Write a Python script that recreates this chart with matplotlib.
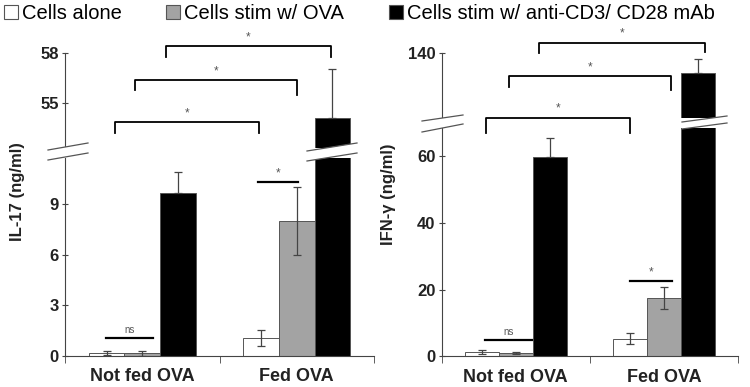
import matplotlib
matplotlib.use("Agg")
import matplotlib.pyplot as plt
import numpy as np
from matplotlib.patches import Polygon, Patch
from matplotlib.lines import Line2D

plt.rcParams['font.family'] = ['Liberation Sans', 'DejaVu Sans']

groups = ['Not fed OVA', 'Fed OVA']
series = ['Cells alone', 'Cells stim w/ OVA', 'Cells stim w/ anti-CD3/ CD28 mAb']
colors = ['white', '#a3a3a3', 'black']

# IL-17 (ng/ml)
il17 = [[0.15, 1.05], [0.15, 8.0], [9.65, 54.1]]
il17_err = [[0.1, 0.5], [0.15, 2.0], [1.25, 2.95]]
# IFN-gamma (ng/ml)
ifn = [[1.3, 5.3], [1.1, 17.5], [59.7, 134.0]]
ifn_err = [[0.5, 1.6], [0.3, 3.2], [5.7, 4.3]]

# significance marks: (x1, x2, y, leg1, leg2, label, axis)
il17_sig = [(0.154, 1.222, 58.44, 57.78, 57.78, '*', 'up'),
            (-0.045, 1.0, 56.40, 55.8, 55.5, '*', 'up'),
            (-0.176, 0.756, 53.88, 53.22, 53.22, '*', 'up'),
            (-0.235, 0.07, 1.06, None, None, 'ns', 'low'),
            (0.749, 1.008, 10.3, None, None, '*', 'low')]
ifn_sig = [(0.157, 1.279, 143.2, 140.0, 140.5, '*', 'up'),
           (-0.045, 1.049, 133.1, 130.0, 129.0, '*', 'up'),
           (-0.2, 0.773, 120.7, 116.1, 116.1, '*', 'up'),
           (-0.207, 0.11, 4.9, None, None, 'ns', 'low'),
           (0.772, 1.054, 22.6, None, None, '*', 'low')]

W, H = 750, 387
fig = plt.figure(figsize=(7.5, 3.87), dpi=100)


def px(x, y):
    return (x / W, 1 - y / H)


def make_axes(x0, x1, y_bot, y_low_top, y_up_bot, y_top):
    low = fig.add_axes([x0 / W, 1 - y_bot / H, (x1 - x0) / W, (y_bot - y_low_top) / H])
    up = fig.add_axes([x0 / W, 1 - y_up_bot / H, (x1 - x0) / W, (y_up_bot - y_top) / H])
    return low, up


def style(ax, upper):
    for s in ['top', 'right']:
        ax.spines[s].set_visible(False)
    ax.spines['left'].set_color('#444444')
    ax.spines['bottom'].set_color('#444444')
    if upper:
        ax.spines['bottom'].set_visible(False)
        ax.set_xticks([])
    ax.tick_params(axis='y', direction='inout', length=5, width=0.8, color='#444444',
                   labelsize=12, pad=2)
    for lab in ax.get_yticklabels():
        lab.set_fontweight('bold')
        lab.set_color('#222222')
    ax.set_facecolor('none')
    ax.set_xlim(-0.5, 1.5)


def draw_panel(low, up, vals, errs, lims_low, lims_up, ticks_low, ticks_up, ylabel, sigs,
               label_pos):
    x = np.arange(len(groups))
    w = 0.23
    for ax in (low, up):
        for i in range(3):
            lo = [0, 0] if i == 2 else errs[i]
            ax.bar(x + (i - 1) * w, vals[i], w, color=colors[i], edgecolor='#555555',
                   linewidth=0.7, yerr=[lo, errs[i]],
                   error_kw=dict(ecolor='#444444', elinewidth=0.9, capsize=3, capthick=0.9))
    low.set_ylim(*lims_low)
    up.set_ylim(*lims_up)
    low.set_yticks(ticks_low)
    up.set_yticks(ticks_up)
    style(low, False)
    style(up, True)
    low.set_xticks([0, 1])
    low.set_xticklabels(groups, fontsize=13, fontweight='bold', color='#222222')
    low.set_xticks([-0.5, 0.5, 1.5], minor=True)
    low.tick_params(axis='x', which='major', length=0, pad=9)
    low.tick_params(axis='x', which='minor', direction='out', length=5, color='#444444')
    low.set_ylabel(ylabel, fontsize=12, fontweight='bold', color='#222222')
    low.yaxis.set_label_coords(*label_pos)
    for x1, x2, y, l1, l2, lab, where in sigs:
        ax = up if where == 'up' else low
        if l1 is None:
            ax.plot([x1, x2], [y, y], color='black', lw=1.6, clip_on=False)
        else:
            ax.plot([x1, x1, x2, x2], [l1, y, y, l2], color='black', lw=1.3, clip_on=False)
        fs = 7 if lab == 'ns' else 8.5
        ax.annotate(lab, ((x1 + x2) / 2, y), xytext=(0, 2), textcoords='offset points',
                    ha='center', va='bottom', fontsize=fs, color='#555555',
                    annotation_clip=False)


def break_mark(xa, xb, ya1, yb1, ya2, yb2):
    # white band between two slanted lines, in pixel coords of the figure
    pts = [px(xa, ya1), px(xb, yb1), px(xb, yb2), px(xa, ya2)]
    fig.add_artist(Polygon(pts, closed=True, facecolor='white', edgecolor='none',
                           transform=fig.transFigure, zorder=10))
    for p, q in [(pts[0], pts[1]), (pts[3], pts[2])]:
        fig.add_artist(Line2D([p[0], q[0]], [p[1], q[1]], color='#555555', lw=0.9,
                              transform=fig.transFigure, zorder=11))


low1, up1 = make_axes(65, 374, 355.7, 158, 148, 53.3)
draw_panel(low1, up1, il17, il17_err, (0, 11.73), (52.32, 58), [0, 3, 6, 9], [55, 58],
           'IL-17 (ng/ml)', il17_sig, (-0.128, 0.83))
low2, up2 = make_axes(441.7, 738, 356.3, 128, 118, 53.3)
draw_panel(low2, up2, ifn, ifn_err, (0, 68.4), (120.6, 140), [0, 20, 40, 60], [140],
           'IFN-γ (ng/ml)', ifn_sig, (-0.155, 0.71))

break_mark(48, 88, 150, 143, 160, 153)
break_mark(307, 357, 151, 143, 161, 153)
break_mark(422, 463, 121, 115, 132, 124)
break_mark(682, 727, 122, 116, 129, 123)

handles = [Patch(facecolor=c, edgecolor='#555555', linewidth=0.8) for c in colors]
fig.legend(handles, series, loc='upper left', bbox_to_anchor=(0.0, 1.0), ncol=3,
           frameon=False, fontsize=14.5, handlelength=0.7, handleheight=0.7,
           handletextpad=0.2, columnspacing=2.2, borderpad=0.1, borderaxespad=0.1)

fig.savefig('out.png', dpi=100)
